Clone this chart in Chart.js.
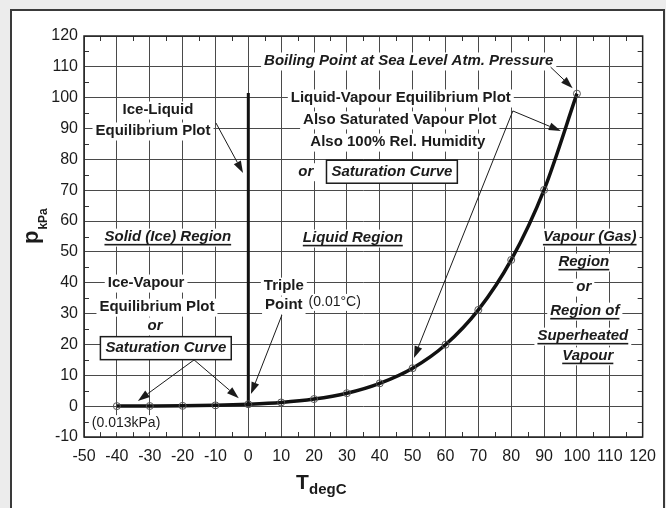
<!DOCTYPE html>
<html>
<head>
<meta charset="utf-8">
<script src="https://cdn.jsdelivr.net/npm/chart.js@4.4.0/dist/chart.umd.min.js"></script>
<style>
  html, body { margin: 0; padding: 0; background: #ececec; }
  canvas { display: block; }
</style>
</head>
<body>
<canvas id="phase" width="666" height="508"></canvas>
<script>
// Saturation (vapour) pressure of water, kPa, against temperature, degC
const temperatures = [-40, -30, -20, -10, 0, 10, 20, 30, 40, 50, 60, 70, 80, 90, 100];
const pressures    = [0.013, 0.04, 0.10, 0.26, 0.61, 1.2, 2.3, 4.2, 7.4, 12.3, 19.9, 31.2, 47.4, 70.1, 101.3];

// Ice-liquid equilibrium line (nearly vertical at the triple point)
const iceLiquidT = [0.01, 0];
const iceLiquidP = [0.61, 101.5];

// Axis tick values
const xTickValues = [-50, -40, -30, -20, -10, 0, 10, 20, 30, 40, 50, 60, 70, 80, 90, 100, 110, 120];
const yTickValues = [-10, 0, 10, 20, 30, 40, 50, 60, 70, 80, 90, 100, 110, 120];

const FAMILY = '"Liberation Sans", Arial, sans-serif';
const INK = '#1b1b1b';

// Text notes placed in data coordinates (T, p)
const notes = [
  { t: 'Boiling Point at Sea Level Atm. Pressure', x: 48.8, y: 111.9, f: 'italic bold 15px' },
  { t: 'Liquid-Vapour Equilibrium Plot', x: 46.4, y: 99.9, f: 'bold 15px' },
  { t: 'Also Saturated Vapour Plot', x: 46.1, y: 92.8, f: 'bold 15px' },
  { t: 'Also 100% Rel. Humidity', x: 45.5, y: 85.6, f: 'bold 15px' },
  { t: 'or', x: 17.5, y: 76.0, f: 'italic bold 15px' },
  { t: 'Saturation Curve', x: 43.7, y: 76.0, f: 'italic bold 15px', box: true },
  { t: 'Ice-Liquid', x: -27.5, y: 96.0, f: 'bold 15px' },
  { t: 'Equilibrium Plot', x: -29.0, y: 89.2, f: 'bold 15px' },
  { t: 'Solid (Ice) Region', x: -24.5, y: 54.8, f: 'italic bold 15px', u: true },
  { t: 'Liquid Region', x: 31.8, y: 54.5, f: 'italic bold 15px', u: true },
  { t: 'Vapour (Gas)', x: 103.9, y: 54.8, f: 'italic bold 15px', u: true },
  { t: 'Region', x: 102.1, y: 46.7, f: 'italic bold 15px', u: true },
  { t: 'or', x: 102.1, y: 38.6, f: 'italic bold 15px' },
  { t: 'Region of', x: 102.4, y: 30.8, f: 'italic bold 15px', u: true },
  { t: 'Superheated', x: 101.8, y: 22.7, f: 'italic bold 15px', u: true },
  { t: 'Vapour', x: 103.3, y: 16.3, f: 'italic bold 15px', u: true },
  { t: 'Ice-Vapour', x: -31.1, y: 39.9, f: 'bold 15px' },
  { t: 'Equilibrium Plot', x: -27.8, y: 32.1, f: 'bold 15px' },
  { t: 'or', x: -28.4, y: 26.0, f: 'italic bold 15px' },
  { t: 'Saturation Curve', x: -25.1, y: 18.8, f: 'italic bold 15px', box: true },
  { t: 'Triple', x: 10.8, y: 38.9, f: 'bold 15px' },
  { t: 'Point', x: 10.8, y: 32.8, f: 'bold 15px' },
  { t: '(0.01°C)', x: 26.3, y: 33.8, f: '14px' },
  { t: '(0.013kPa)', x: -37.2, y: -5.5, f: '14px' }
];

// Leader lines: [fromT, fromP, toT, toP, arrowhead?]
const leaders = [
  [-9.85, 91.8, -1.6, 75.6, true],
  [92.0, 109.9, 98.7, 103.1, true],
  [80.5, 95.7, 95.1, 89.2, true],
  [80.5, 95.7, 50.4, 15.6, true],
  [-16.5, 15.0, -33.6, 1.7, true],
  [-16.5, 15.0, -2.9, 2.6, true],
  [10.2, 29.5, 0.8, 3.9, true]
];

const decor = {
  id: 'decor',
  beforeDraw(chart) {
    const ctx = chart.ctx;
    ctx.save();
    ctx.fillStyle = '#ececec';
    ctx.fillRect(0, 0, chart.width, chart.height);
    ctx.fillStyle = '#ffffff';
    ctx.fillRect(11, 10, 653, 520);
    ctx.strokeStyle = '#3a3a3a';
    ctx.lineWidth = 2;
    ctx.strokeRect(11, 10, 653, 520);
    ctx.restore();
  },
  beforeDatasetsDraw(chart) {
    const ctx = chart.ctx;
    const xs = chart.scales.x, ys = chart.scales.y;
    const a = chart.chartArea;
    ctx.save();
    // minor ticks every 5 units along the frame
    ctx.strokeStyle = '#333';
    ctx.lineWidth = 1;
    ctx.beginPath();
    for (let v = -45; v < 120; v += 10) {
      const px = Math.round(xs.getPixelForValue(v)) + 0.5;
      ctx.moveTo(px, a.top); ctx.lineTo(px, a.top + 5);
      ctx.moveTo(px, a.bottom); ctx.lineTo(px, a.bottom - 5);
    }
    for (let v = -5; v < 120; v += 10) {
      const py = Math.round(ys.getPixelForValue(v)) + 0.5;
      ctx.moveTo(a.left, py); ctx.lineTo(a.left + 5, py);
      ctx.moveTo(a.right, py); ctx.lineTo(a.right - 5, py);
    }
    ctx.stroke();
    // frame
    ctx.strokeStyle = '#222';
    ctx.lineWidth = 1.5;
    ctx.strokeRect(a.left, a.top, a.right - a.left, a.bottom - a.top);

    // notes with white grounds
    ctx.textAlign = 'center';
    ctx.textBaseline = 'middle';
    for (const n of notes) {
      ctx.font = n.f + ' ' + FAMILY;
      const px = xs.getPixelForValue(n.x), py = ys.getPixelForValue(n.y);
      const w = ctx.measureText(n.t).width;
      const size = parseFloat(n.f.match(/(\d+)px/)[1]);
      ctx.fillStyle = '#ffffff';
      if (n.box) {
        ctx.fillRect(px - w / 2 - 5, py - size / 2 - 4, w + 10, size + 8);
      } else {
        ctx.fillRect(px - w / 2 - 3, py - size / 2 - 1, w + 6, size + 3);
      }
      ctx.fillStyle = INK;
      ctx.fillText(n.t, px, py);
      if (n.u) {
        ctx.fillRect(px - w / 2, py + size * 0.45, w, 1.6);
      }
      if (n.box) {
        ctx.strokeStyle = INK;
        ctx.lineWidth = 1.5;
        ctx.strokeRect(px - w / 2 - 5, py - size / 2 - 4, w + 10, size + 8);
      }
    }
    ctx.restore();
  },
  afterDatasetsDraw(chart) {
    const ctx = chart.ctx;
    const xs = chart.scales.x, ys = chart.scales.y;
    ctx.save();
    ctx.strokeStyle = INK;
    ctx.fillStyle = INK;
    ctx.lineWidth = 1;
    for (const [t0, p0, t1, p1, head] of leaders) {
      const x0 = xs.getPixelForValue(t0), y0 = ys.getPixelForValue(p0);
      const x1 = xs.getPixelForValue(t1), y1 = ys.getPixelForValue(p1);
      const ang = Math.atan2(y1 - y0, x1 - x0);
      const L = 12, H = 4;
      const bx = x1 - L * Math.cos(ang), by = y1 - L * Math.sin(ang);
      ctx.beginPath();
      ctx.moveTo(x0, y0);
      ctx.lineTo(bx, by);
      ctx.stroke();
      if (head) {
        ctx.beginPath();
        ctx.moveTo(x1, y1);
        ctx.lineTo(bx + H * Math.sin(ang), by - H * Math.cos(ang));
        ctx.lineTo(bx - H * Math.sin(ang), by + H * Math.cos(ang));
        ctx.closePath();
        ctx.fill();
      }
    }
    // axis titles with subscripts
    ctx.fillStyle = INK;
    ctx.textAlign = 'left';
    ctx.textBaseline = 'alphabetic';
    ctx.font = 'bold 21px ' + FAMILY;
    ctx.fillText('T', 296, 489);
    ctx.font = 'bold 15px ' + FAMILY;
    ctx.fillText('degC', 309, 494);

    ctx.translate(38, 244);
    ctx.rotate(-Math.PI / 2);
    ctx.font = 'bold 22px ' + FAMILY;
    ctx.fillText('p', 0, 0);
    const pw = ctx.measureText('p').width;
    ctx.font = 'bold 12px ' + FAMILY;
    ctx.fillText('kPa', pw + 1, 9);
    ctx.restore();
  }
};

new Chart(document.getElementById('phase'), {
  type: 'scatter',
  data: {
    datasets: [
      {
        label: 'Saturation curve',
        data: temperatures.map((t, i) => ({ x: t, y: pressures[i] })),
        showLine: true,
        borderColor: '#111111',
        borderWidth: 3.5,
        cubicInterpolationMode: 'monotone',
        pointRadius: 3.5,
        pointBorderWidth: 1,
        pointBorderColor: '#555555',
        pointBackgroundColor: 'rgba(255,255,255,0)'
      },
      {
        label: 'Ice-liquid line',
        data: iceLiquidT.map((t, i) => ({ x: t, y: iceLiquidP[i] })),
        showLine: true,
        borderColor: '#111111',
        borderWidth: 3,
        pointRadius: 0
      }
    ]
  },
  options: {
    responsive: false,
    devicePixelRatio: 1,
    animation: false,
    layout: { padding: { left: 0, right: 23, top: 36, bottom: 0 } },
    plugins: { legend: { display: false }, tooltip: { enabled: false } },
    scales: {
      x: {
        type: 'linear',
        min: -50, max: 120,
        afterBuildTicks: s => { s.ticks = xTickValues.map(v => ({ value: v })); },
        afterFit: s => { s.height = 71; },
        grid: { color: '#4a4a4a', lineWidth: 1, drawTicks: false },
        border: { display: false },
        ticks: { color: INK, font: { family: FAMILY, size: 16 }, padding: 10, maxRotation: 0, autoSkip: false }
      },
      y: {
        type: 'linear',
        min: -10, max: 120,
        afterBuildTicks: s => { s.ticks = yTickValues.map(v => ({ value: v })); },
        afterFit: s => { s.width = 84; },
        grid: { color: '#4a4a4a', lineWidth: 1, drawTicks: false },
        border: { display: false },
        ticks: { color: INK, font: { family: FAMILY, size: 16 }, padding: 6, autoSkip: false }
      }
    }
  },
  plugins: [decor]
});
</script>
</body>
</html>
